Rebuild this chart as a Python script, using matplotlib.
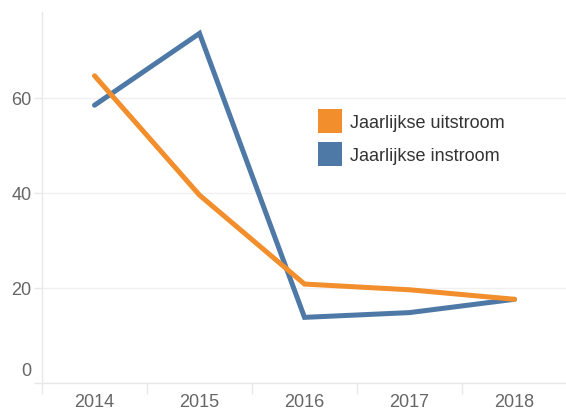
import numpy as np
import matplotlib
matplotlib.use("Agg")
import matplotlib.pyplot as plt
import matplotlib.transforms as mtransforms
from matplotlib.patches import Patch

plt.rcParams['font.family'] = ['Liberation Sans', 'DejaVu Sans']

# jaarlijkse in- en uitstroom
jaren = ["2014", "2015", "2016", "2017", "2018"]
uitstroom = [64.6, 39.5, 20.8, 19.6, 17.6]
instroom = [58.4, 73.5, 13.8, 14.8, 17.6]

oranje = "#f28e2b"
blauw = "#4e79a7"
grijs_lijn = "#e8e8e8"
grijs_tekst = "#666666"

W, H = 566, 410
fig = plt.figure(figsize=(W / 100, H / 100), dpi=100)
ax = fig.add_axes([42 / W, 26 / H, 525 / W, 371 / H])

x = np.arange(len(jaren))
ax.plot(x, uitstroom, color=oranje, lw=3.6, solid_capstyle="round",
        solid_joinstyle="miter", zorder=3)
ax.plot(x, instroom, color=blauw, lw=3.6, solid_capstyle="round",
        solid_joinstyle="miter", zorder=2)

ax.set_xlim(-0.5, len(jaren) - 0.5)
ax.set_ylim(0, 78)

for s in ["top", "right"]:
    ax.spines[s].set_visible(False)
for s in ["left", "bottom"]:
    ax.spines[s].set_color(grijs_lijn)
    ax.spines[s].set_linewidth(1)

ax.set_yticks([0, 20, 40, 60])
ax.yaxis.grid(True, color="#f0f0f0", lw=1)
ax.set_axisbelow(True)
ax.tick_params(axis="y", length=6, width=1, color=grijs_lijn, pad=1.5,
               labelsize=13, labelcolor=grijs_tekst)

ax.set_xticks(x)
ax.set_xticklabels(jaren)
ax.set_xticks(np.arange(len(jaren) + 1) - 0.5, minor=True)
ax.tick_params(axis="x", which="major", length=0, pad=7,
               labelsize=13, labelcolor=grijs_tekst)
ax.tick_params(axis="x", which="minor", length=8, width=1, color=grijs_lijn)

# nul-label net boven de basislijn
nul = ax.get_yticklabels()[0]
nul.set_verticalalignment("bottom")
nul.set_transform(nul.get_transform() +
                  mtransforms.ScaledTranslation(0, 3 / 72, fig.dpi_scale_trans))

handles = [Patch(facecolor=oranje, edgecolor="none"),
           Patch(facecolor=blauw, edgecolor="none")]
ax.legend(handles, ["Jaarlijkse uitstroom", "Jaarlijkse instroom"],
          loc="upper left", bbox_to_anchor=(318 / W, 1 - 110 / H),
          bbox_transform=fig.transFigure, frameon=False, fontsize=13,
          handlelength=1.33, handleheight=1.67, handletextpad=0.45,
          labelspacing=0.5, borderpad=0, borderaxespad=0,
          labelcolor="#333333")

fig.savefig("out.png", dpi=100)
